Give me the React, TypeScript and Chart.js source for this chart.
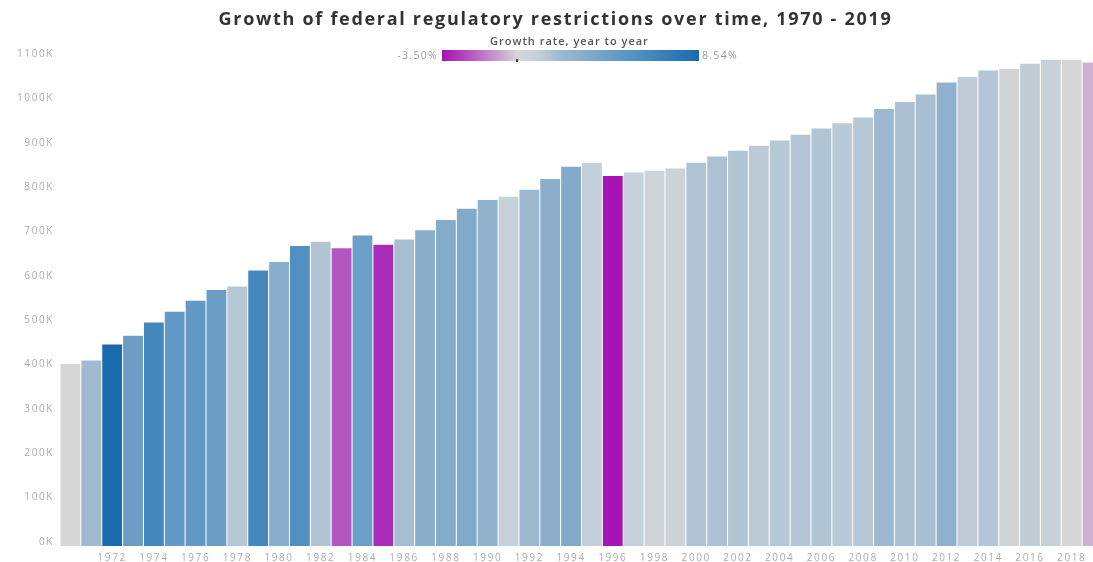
import React, { useEffect, useRef } from 'react';
import { Chart, registerables } from 'chart.js';

Chart.register(...registerables);

// ---- Data ----
const years: string[] = [
  '1970', '1971', '1972', '1973', '1974', '1975', '1976', '1977', '1978', '1979',
  '1980', '1981', '1982', '1983', '1984', '1985', '1986', '1987', '1988', '1989',
  '1990', '1991', '1992', '1993', '1994', '1995', '1996', '1997', '1998', '1999',
  '2000', '2001', '2002', '2003', '2004', '2005', '2006', '2007', '2008', '2009',
  '2010', '2011', '2012', '2013', '2014', '2015', '2016', '2017', '2018', '2019',
];

const restrictions: number[] = [
  410000, 418000, 454000, 474000, 504000, 528000, 553000, 577000, 585000, 621000,
  640000, 676000, 686000, 671000, 700000, 679000, 691000, 712000, 735000, 760000,
  780000, 787000, 803000, 827000, 855000, 864000, 834000, 842000, 846000, 851000,
  864000, 878000, 891000, 902000, 914000, 927000, 941000, 953000, 966000, 985000,
  1001000, 1018000, 1045000, 1057000, 1072000, 1075000, 1087000, 1096000, 1096000, 1090000,
];

const xTickLabels: string[] = [
  '1972', '1974', '1976', '1978', '1980', '1982', '1984', '1986', '1988', '1990',
  '1992', '1994', '1996', '1998', '2000', '2002', '2004', '2006', '2008', '2010',
  '2012', '2014', '2016', '2018',
];

const yAxisMax = 1100000;
const yAxisStep = 100000;

const growthMin = -3.5; // legend minimum, %
const growthMax = 8.54; // legend maximum, %

const chartTitle = 'Growth of federal regulatory restrictions over time, 1970 - 2019';
const legendTitle = 'Growth rate, year to year';

// ---- Colour scale (style) ----
type Stop = [number, number[]];
const posStops: Stop[] = [
  [0, [214, 214, 214]],
  [1, [197, 208, 216]],
  [2, [156, 184, 208]],
  [3, [138, 174, 204]],
  [4.3, [108, 159, 199]],
  [5, [94, 150, 196]],
  [6, [74, 139, 191]],
  [8.54, [26, 106, 174]],
];
const negStops: Stop[] = [
  [0, [214, 214, 214]],
  [-0.55, [205, 176, 210]],
  [-2.2, [180, 85, 192]],
  [-3.0, [170, 45, 184]],
  [-3.5, [167, 18, 180]],
];

function interp(stops: Stop[], g: number): number[] {
  const a = Math.abs(g);
  for (let i = 1; i < stops.length; i++) {
    const a0 = Math.abs(stops[i - 1][0]);
    const a1 = Math.abs(stops[i][0]);
    if (a <= a1) {
      const t = (a - a0) / (a1 - a0);
      return stops[i - 1][1].map((c, k) => Math.round(c + (stops[i][1][k] - c) * t));
    }
  }
  return stops[stops.length - 1][1];
}

function growthColor(g: number | null): string {
  if (g === null) return 'rgb(214,214,214)';
  const c = Math.max(growthMin, Math.min(growthMax, g));
  const rgb = c >= 0 ? interp(posStops, c) : interp(negStops, c);
  return `rgb(${rgb[0]},${rgb[1]},${rgb[2]})`;
}

const growth: (number | null)[] = restrictions.map((v, i) =>
  i === 0 ? null : (v / restrictions[i - 1] - 1) * 100
);
const barColors = growth.map(growthColor);

function legendGradient(): string {
  const n = 24;
  const parts: string[] = [];
  for (let i = 0; i <= n; i++) {
    const g = growthMin + ((growthMax - growthMin) * i) / n;
    parts.push(`${growthColor(g)} ${((i / n) * 100).toFixed(1)}%`);
  }
  return `linear-gradient(to right, ${parts.join(', ')})`;
}

const spacingPlugin = {
  id: 'letterSpacing',
  beforeDraw(chart: any) {
    (chart.ctx as any).letterSpacing = '1.6px';
  },
};

export default function App() {
  const canvasRef = useRef<HTMLCanvasElement | null>(null);

  useEffect(() => {
    const canvas = canvasRef.current;
    if (!canvas) return;
    const tickFont = { family: "'Open Sans', sans-serif", size: 10 };
    const chart = new Chart(canvas, {
      type: 'bar',
      data: {
        labels: years,
        datasets: [
          {
            data: restrictions,
            backgroundColor: barColors,
            barPercentage: 0.95,
            categoryPercentage: 1,
          },
        ],
      },
      options: {
        animation: false,
        responsive: false,
        maintainAspectRatio: false,
        layout: { padding: { top: 58, left: 0, right: 1, bottom: 0 } },
        plugins: {
          legend: { display: false },
          tooltip: { enabled: false },
          title: { display: false },
        },
        scales: {
          x: {
            grid: { display: false, drawTicks: false },
            border: { display: false },
            ticks: {
              autoSkip: false,
              maxRotation: 0,
              minRotation: 0,
              color: '#ababab',
              font: tickFont,
              padding: 6,
              callback: (_v: any, i: number) => (xTickLabels.includes(years[i]) ? years[i] : ''),
            },
            afterFit: (s: any) => {
              s.height = 24;
            },
          },
          y: {
            min: 0,
            max: yAxisMax,
            grid: { display: false, drawTicks: false },
            border: { display: false },
            ticks: {
              stepSize: yAxisStep,
              color: '#ababab',
              font: tickFont,
              padding: 6,
              labelOffset: -4,
              callback: (v: any) => `${Math.round(Number(v) / 1000)}K`,
            },
            afterFit: (s: any) => {
              s.width = 60;
            },
          },
        },
      },
      plugins: [spacingPlugin],
    });
    return () => chart.destroy();
  }, []);

  return (
    <div
      style={{
        position: 'absolute',
        left: 0,
        top: 0,
        width: 1093,
        height: 562,
        overflow: 'hidden',
        background: '#fff',
        fontFamily: "'Open Sans', sans-serif",
      }}
    >
      <canvas ref={canvasRef} width={1104} height={570} style={{ position: 'absolute', left: 0, top: 0 }} />
      <div
        style={{
          position: 'absolute',
          left: 0,
          top: 5,
          width: 1111,
          textAlign: 'center',
          fontSize: 18,
          fontWeight: 700,
          color: '#333',
          letterSpacing: '1.7px',
          lineHeight: '26px',
          whiteSpace: 'nowrap',
        }}
      >
        {chartTitle}
      </div>
      <div
        style={{
          position: 'absolute',
          left: 0,
          top: 33,
          width: 1139,
          textAlign: 'center',
          fontSize: 11,
          fontWeight: 600,
          color: '#555',
          letterSpacing: '1px',
          lineHeight: '15px',
          whiteSpace: 'nowrap',
        }}
      >
        {legendTitle}
      </div>
      <div
        style={{
          position: 'absolute',
          right: 1093 - 438,
          top: 48,
          fontSize: 10.5,
          color: '#999',
          letterSpacing: '1.3px',
          lineHeight: '15px',
          whiteSpace: 'nowrap',
        }}
      >
        {`${growthMin.toFixed(2)}%`}
      </div>
      <div
        style={{
          position: 'absolute',
          left: 442,
          top: 50,
          width: 257,
          height: 11,
          background: legendGradient(),
        }}
      />
      <div
        style={{
          position: 'absolute',
          left: 442 + (257 * (0 - growthMin)) / (growthMax - growthMin) - 1,
          top: 59,
          width: 2,
          height: 3,
          background: '#444',
        }}
      />
      <div
        style={{
          position: 'absolute',
          left: 702,
          top: 48,
          fontSize: 10.5,
          color: '#999',
          letterSpacing: '1.3px',
          lineHeight: '15px',
          whiteSpace: 'nowrap',
        }}
      >
        {`${growthMax.toFixed(2)}%`}
      </div>
    </div>
  );
}
